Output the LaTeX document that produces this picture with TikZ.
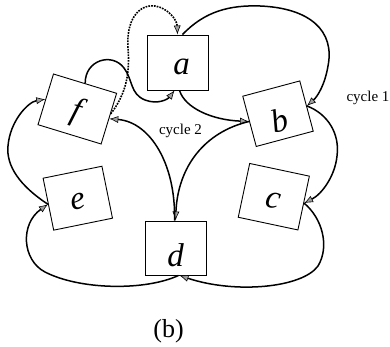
\documentclass[tikz,border=0pt]{standalone}
\usepackage{fontspec}
\setmainfont{Liberation Serif}
\usetikzlibrary{arrows.meta}
\begin{document}
\begin{tikzpicture}[x=1pt,y=1pt,
  vbox/.style={draw, line width=0.9pt, inner sep=0pt,
    font=\fontsize{33}{33}\selectfont\itshape},
  low/.style={text height=23pt, text depth=0pt},
  tall/.style={text height=37pt, text depth=0pt},
  arrowhd/.style={-{Latex[length=9pt,width=7pt,fill=gray!75,line width=0.6pt]}},
  link/.style={line width=1.5pt, arrowhd},
  dotlink/.style={line width=1.6pt, dash pattern=on 1.7pt off 1.1pt, arrowhd},
  cyc/.style={font=\fontsize{15}{15}\selectfont, inner sep=0pt}
]
\useasboundingbox (0,0) rectangle (390,346);

% the six vertices
\node[vbox, low, minimum width=61pt, minimum height=55pt] (a) at (177.5,283.5) {\hspace{8pt}\textit{a}};
\node[vbox, low, minimum width=66pt, minimum height=53pt, rotate=-17] (f) at (77.3,237) {\textit{f}};
\node[vbox, tall, minimum width=59pt, minimum height=52pt, rotate=15] (b) at (278,232.3) {\textit{b}};
\node[vbox, low, minimum width=60pt, minimum height=53pt, rotate=11.5] (e) at (77.8,147.8) {\textit{e}};
\node[vbox, low, minimum width=61pt, minimum height=55pt, rotate=-12] (c) at (273.8,149.3) {\textit{c}};
\node[vbox, tall, minimum width=61pt, minimum height=54pt] (d) at (175.5,98) {\textit{d}};

% cycle 1: a -> b -> c -> d -> e -> f -> a
\draw[link] ([xshift=5pt]a.north) .. controls (205,335) and (230,341) .. (260,340)
  .. controls (310,338) and (335,315) .. (328,280)
  .. controls (325,262) and (318,250) .. (b.east);
\draw[link] (b.east) .. controls (328,232) and (340,212) .. (337,190)
  .. controls (335,170) and (322,152) .. (c.east);
\draw[link] (c.east) .. controls (322,128) and (330,100) .. (318,80)
  .. controls (302,58) and (235,52) .. ([xshift=4pt]d.south);
\draw[link] ([xshift=3pt]d.south) .. controls (145,55) and (80,56) .. (45,74)
  .. controls (22,86) and (20,122) .. (e.west);
\draw[link] (e.west) .. controls (20,160) and (6,180) .. (8,200)
  .. controls (10,225) and (28,244) .. (f.west);
\draw[link] (f.north) .. controls (85,286) and (112,294) .. (124,278)
  .. controls (133,266) and (130,252) .. (145,246)
  .. controls (158,241) and (168,247) .. ([xshift=-3pt]a.south);

% cycle 2: a -> b -> d -> f -> a
\draw[link] ([xshift=2pt]a.south) .. controls (185,238) and (212,226) .. (b.west);
\draw[link] (b.west) .. controls (205,214) and (178,180) .. (d.north);
\draw[link] ([xshift=-1pt]d.north) .. controls (176,182) and (150,224) .. (f.east);
\draw[dotlink] ([shift={(1.5pt,5pt)}]f.east) .. controls (126,252) and (130,272) .. (128,298)
  .. controls (126,325) and (138,342) .. (155,340)
  .. controls (168,338) and (177,326) .. (a.north);

% labels
\node[cyc, anchor=base] (c2) at (180.5,212) {cycle 2};
\node[cyc, anchor=base] (c1) at (368,245) {cycle 1};
\node[anchor=base, inner sep=0pt, font=\fontsize{26}{26}\selectfont] (cap) at (168.5,9) {(b)};
\end{tikzpicture}
\end{document}
